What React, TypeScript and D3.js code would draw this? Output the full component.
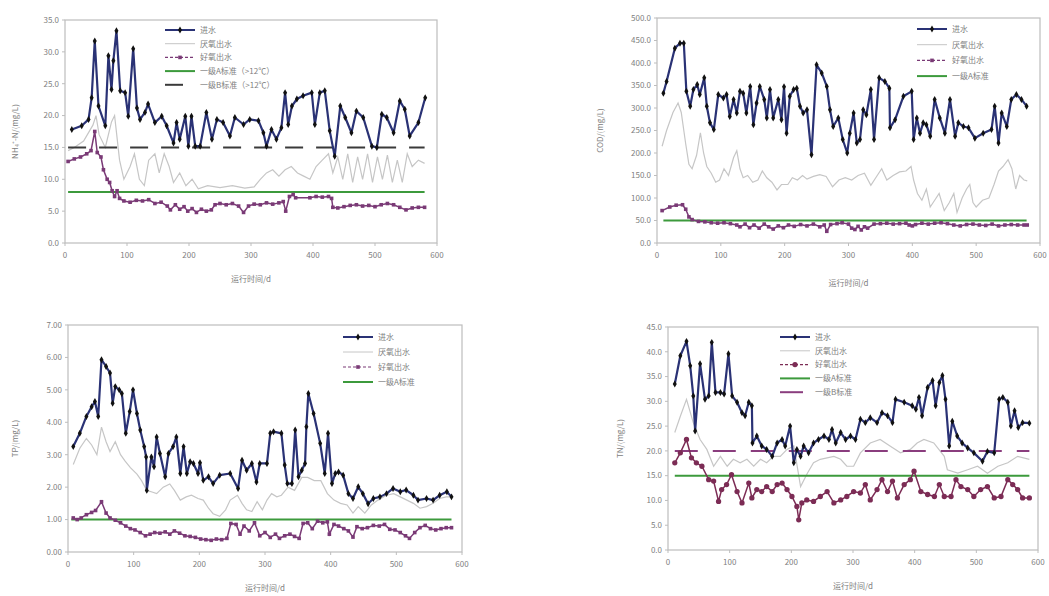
import React from 'react';
import * as d3 from 'd3';

type P = [number, number];

// ---------- legend labels ----------
const legendNH4 = ['进水', '厌氧出水', '好氧出水', '一级A标准（>12℃）', '一级B标准（>12℃）'];
const legendCOD = ['进水', '厌氧出水', '好氧出水', '一级A标准'];
const legendTP = ['进水', '厌氧出水', '好氧出水', '一级A标准'];
const legendTN = ['进水', '厌氧出水', '好氧出水', '一级A标准', '一级B标准'];

const xTicks = [0, 100, 200, 300, 400, 500, 600];
const ticksNH4 = [0, 5, 10, 15, 20, 25, 30, 35];
const ticksCOD = [0, 50, 100, 150, 200, 250, 300, 350, 400, 450, 500];
const ticksTP = [0, 1, 2, 3, 4, 5, 6, 7];
const ticksTN = [0, 5, 10, 15, 20, 25, 30, 35, 40, 45];

// ---------- NH4+-N ----------
const nh4Influent: P[] = [
  [11, 17.8], [27, 18.4], [38, 19.4], [43, 22.8], [48, 31.7], [54, 21.5], [65, 18.4], [70, 29.4], [75, 24.1],
  [78, 28.6], [83, 33.3], [89, 23.9], [97, 23.6], [102, 19.9], [110, 30.5], [116, 21.2], [121, 19.4], [129, 20.5],
  [134, 21.8], [145, 18.9], [156, 19.9], [164, 18.4], [175, 15.7], [180, 18.9], [185, 16.3], [194, 19.9],
  [199, 15.2], [204, 19.9], [210, 15.2], [218, 15.2], [228, 20.5], [237, 16.3], [245, 19.4], [255, 18.9],
  [266, 16.8], [274, 19.7], [288, 18.6], [298, 19.4], [312, 19.2], [320, 17.3], [325, 15.2], [333, 17.8],
  [341, 16.3], [349, 18.1], [355, 23.6], [360, 18.6], [366, 21.5], [374, 22.6], [384, 23.1], [398, 23.6],
  [403, 18.6], [411, 23.6], [419, 23.9], [427, 17.6], [435, 13.6], [444, 21.5], [452, 19.7], [462, 17.3],
  [470, 20.7], [481, 19.7], [495, 15.2], [503, 15.0], [511, 20.2], [519, 19.7], [530, 17.3], [540, 22.3],
  [548, 21.0], [556, 16.8], [570, 18.9], [581, 22.8],
];
const nh4Anaerobic: P[] = [
  [5, 14.5], [15, 15], [30, 16], [45, 18.5], [50, 20], [55, 17], [65, 15], [75, 19], [80, 20], [88, 13],
  [95, 10], [105, 12], [112, 14], [120, 10], [128, 9], [135, 13], [145, 14], [152, 11], [160, 14], [168, 12],
  [175, 9.5], [185, 11], [195, 9], [205, 10], [215, 8.5], [230, 9], [250, 8.7], [270, 9], [290, 8.6],
  [305, 8.8], [315, 10], [325, 11], [335, 11.5], [345, 10.5], [355, 11.5], [365, 12], [375, 11], [385, 10.5],
  [395, 10], [405, 12], [415, 13], [425, 14], [432, 11], [440, 13.5], [448, 10], [456, 14], [464, 9.5],
  [472, 13.5], [480, 10], [488, 14], [496, 9.5], [504, 13.5], [512, 10], [520, 13.8], [528, 9.5], [536, 13],
  [544, 9.5], [552, 14], [560, 12], [570, 13], [580, 12.5],
];
const nh4Aerobic: P[] = [
  [5, 12.8], [15, 13.2], [25, 13.5], [35, 14], [42, 14.5], [48, 17.5], [52, 14.2], [58, 13.5], [62, 11.5],
  [68, 10], [72, 9.5], [76, 8.2], [80, 7.3], [84, 8.2], [88, 7], [95, 6.6], [105, 6.4], [115, 6.7], [125, 6.6],
  [135, 6.8], [145, 6.2], [155, 6.4], [165, 5.8], [170, 5.2], [178, 6], [185, 5.3], [192, 5.7], [198, 5],
  [205, 5.4], [212, 4.8], [220, 5.3], [228, 5], [236, 5.2], [242, 6], [250, 6.2], [260, 6], [270, 6.2],
  [280, 5.8], [288, 4.8], [296, 5.8], [305, 6.1], [315, 6], [325, 6.3], [335, 6.1], [345, 6.3], [352, 6.5],
  [356, 5], [362, 7.3], [368, 7.6], [372, 7.1], [395, 7.1], [405, 7.3], [415, 7.2], [425, 7.3], [430, 7],
  [432, 5.6], [440, 5.5], [450, 5.7], [460, 5.9], [470, 6], [480, 5.8], [490, 5.9], [500, 5.7], [510, 6],
  [520, 6.2], [530, 6], [540, 5.6], [550, 5.2], [560, 5.5], [570, 5.6], [580, 5.6],
];
const nh4StdA = 8;
const nh4StdB = 15;

// ---------- COD ----------
const codInfluent: P[] = [
  [10, 333], [15, 359], [28, 433], [36, 444], [42, 444], [46, 337], [52, 304], [57, 341], [63, 352], [67, 330],
  [74, 367], [78, 304], [83, 267], [89, 252], [96, 330], [104, 322], [109, 330], [114, 281], [120, 319],
  [125, 289], [130, 337], [135, 333], [140, 289], [146, 348], [151, 263], [156, 311], [161, 348], [168, 319],
  [172, 278], [177, 341], [182, 278], [190, 319], [195, 274], [199, 347], [203, 244], [208, 326], [214, 341],
  [219, 344], [224, 304], [229, 289], [235, 296], [242, 196], [250, 396], [258, 378], [266, 348], [271, 296],
  [276, 259], [284, 278], [291, 230], [298, 200], [302, 244], [308, 289], [313, 222], [318, 230], [323, 296],
  [328, 285], [335, 341], [340, 230], [348, 367], [357, 359], [364, 344], [365, 256], [373, 274], [386, 326],
  [399, 337], [402, 230], [407, 278], [412, 244], [417, 267], [422, 263], [428, 237], [435, 319], [443, 278],
  [451, 244], [459, 319], [467, 237], [472, 267], [480, 259], [488, 256], [498, 233], [511, 244], [524, 252],
  [529, 304], [535, 222], [540, 289], [548, 259], [555, 319], [563, 330], [571, 319], [579, 304],
];
const codAnaerobic: P[] = [
  [8, 215], [15, 250], [25, 290], [33, 311], [38, 290], [45, 220], [50, 175], [55, 165], [62, 195], [68, 245],
  [73, 200], [78, 170], [85, 155], [92, 135], [98, 140], [105, 165], [112, 150], [120, 190], [125, 205],
  [130, 165], [135, 145], [142, 150], [150, 135], [158, 140], [165, 160], [172, 145], [180, 135], [188, 118],
  [195, 130], [205, 130], [212, 145], [220, 140], [228, 150], [235, 142], [245, 148], [255, 152], [265, 148],
  [275, 125], [285, 140], [295, 145], [305, 140], [315, 150], [325, 155], [335, 128], [345, 150], [352, 165],
  [360, 140], [370, 150], [380, 158], [390, 160], [398, 170], [402, 140], [408, 110], [415, 95], [422, 120],
  [428, 80], [435, 95], [442, 110], [450, 72], [458, 90], [465, 110], [470, 68], [478, 100], [485, 120],
  [490, 130], [495, 90], [500, 80], [510, 95], [520, 100], [528, 130], [535, 160], [542, 170], [550, 185],
  [556, 165], [562, 120], [568, 150], [575, 140], [580, 138],
];
const codAerobic: P[] = [
  [8, 72], [20, 80], [30, 84], [40, 85], [45, 75], [50, 58], [55, 52], [65, 48], [75, 47], [85, 45], [95, 44],
  [105, 45], [115, 43], [125, 40], [130, 36], [138, 42], [145, 34], [152, 40], [160, 33], [168, 42], [175, 36],
  [182, 31], [190, 38], [198, 34], [206, 40], [215, 37], [225, 41], [235, 38], [245, 42], [255, 36], [262, 40],
  [266, 26], [272, 41], [282, 43], [290, 45], [300, 42], [305, 33], [310, 30], [315, 37], [320, 29], [325, 36],
  [330, 33], [340, 42], [350, 43], [360, 44], [370, 42], [380, 43], [390, 44], [395, 40], [400, 38], [405, 41],
  [415, 44], [425, 42], [435, 44], [445, 45], [455, 43], [465, 40], [475, 38], [485, 41], [495, 42], [505, 40],
  [515, 39], [525, 42], [535, 38], [545, 40], [555, 41], [565, 40], [575, 40], [580, 40],
];
const codStdA = 50;

// ---------- TP ----------
const tpInfluent: P[] = [
  [8, 3.25], [18, 3.66], [28, 4.18], [36, 4.48], [41, 4.64], [46, 4.18], [51, 5.93], [58, 5.72], [64, 5.52],
  [68, 4.59], [72, 5.1], [78, 5.0], [82, 4.89], [88, 3.66], [94, 4.33], [99, 5.0], [105, 4.27], [110, 3.76],
  [116, 3.25], [119, 2.93], [120, 1.9], [127, 2.93], [131, 2.63], [135, 3.55], [140, 3.04], [148, 2.32],
  [153, 3.04], [160, 3.25], [165, 3.55], [171, 2.42], [176, 3.25], [181, 2.42], [186, 2.78], [191, 2.73],
  [198, 2.42], [201, 2.75], [206, 2.21], [214, 2.32], [221, 2.11], [231, 2.37], [247, 2.42], [259, 1.96],
  [265, 2.83], [272, 2.52], [280, 2.73], [287, 2.16], [292, 2.73], [303, 2.73], [308, 3.66], [313, 3.71],
  [325, 3.66], [330, 2.68], [334, 2.11], [341, 2.11], [346, 3.76], [351, 2.32], [356, 2.52], [361, 2.73],
  [363, 3.86], [366, 4.89], [374, 4.27], [384, 3.35], [391, 2.42], [396, 3.66], [402, 2.11], [407, 2.42],
  [412, 2.47], [419, 2.37], [427, 1.8], [434, 1.65], [442, 2.01], [449, 1.8], [457, 1.49], [465, 1.65],
  [475, 1.7], [485, 1.8], [495, 1.96], [506, 1.86], [515, 1.91], [526, 1.75], [533, 1.6], [546, 1.65],
  [556, 1.6], [566, 1.75], [577, 1.86], [584, 1.7],
];
const tpAnaerobic: P[] = [
  [8, 2.7], [18, 3.2], [28, 3.5], [36, 3.3], [44, 3.0], [51, 3.85], [58, 3.4], [64, 3.1], [72, 3.4], [80, 3.0],
  [87, 2.8], [95, 2.6], [105, 2.4], [112, 2.2], [120, 1.9], [128, 1.85], [135, 1.8], [145, 2.0], [155, 2.1],
  [162, 1.9], [171, 1.6], [180, 1.7], [188, 1.75], [198, 1.65], [206, 1.6], [214, 1.35], [221, 1.18],
  [231, 1.1], [240, 1.3], [247, 1.6], [258, 1.75], [265, 1.5], [272, 1.3], [280, 1.25], [288, 1.55],
  [296, 1.3], [303, 1.6], [310, 1.8], [318, 1.7], [325, 1.75], [335, 2.0], [345, 1.9], [356, 2.3], [365, 2.3],
  [375, 2.2], [385, 2.2], [395, 1.8], [405, 1.6], [415, 1.5], [425, 1.45], [434, 1.2], [442, 1.4], [452, 1.2],
  [462, 1.45], [472, 1.6], [485, 1.75], [496, 1.8], [506, 1.7], [516, 1.6], [526, 1.5], [536, 1.35],
  [546, 1.4], [556, 1.5], [566, 1.65], [576, 1.7], [584, 1.7],
];
const tpAerobic: P[] = [
  [8, 1.05], [14, 1.0], [20, 1.05], [28, 1.15], [36, 1.22], [42, 1.28], [51, 1.55], [58, 1.2], [64, 1.05],
  [72, 0.98], [80, 0.9], [88, 0.8], [95, 0.72], [102, 0.68], [110, 0.6], [118, 0.5], [125, 0.55], [132, 0.6],
  [140, 0.58], [148, 0.62], [155, 0.55], [162, 0.65], [170, 0.58], [178, 0.5], [186, 0.48], [194, 0.45],
  [202, 0.4], [210, 0.38], [218, 0.36], [226, 0.4], [234, 0.38], [242, 0.42], [248, 0.88], [256, 0.85],
  [262, 0.55], [268, 0.8], [276, 0.65], [284, 0.9], [292, 0.5], [300, 0.6], [308, 0.45], [316, 0.55],
  [322, 0.42], [330, 0.5], [338, 0.55], [345, 0.48], [352, 0.42], [358, 0.88], [365, 0.9], [372, 0.72],
  [380, 0.95], [388, 0.9], [395, 0.93], [398, 0.55], [405, 0.85], [412, 0.8], [420, 0.72], [427, 0.65],
  [434, 0.46], [440, 0.78], [448, 0.72], [456, 0.75], [465, 0.82], [474, 0.8], [482, 0.85], [490, 0.7],
  [498, 0.68], [506, 0.6], [514, 0.5], [520, 0.42], [528, 0.6], [536, 0.75], [544, 0.82], [552, 0.72],
  [560, 0.68], [568, 0.72], [576, 0.75], [584, 0.75],
];
const tpStdA = 1.0;

// ---------- TN ----------
const tnInfluent: P[] = [
  [11, 33.5], [20, 39.2], [30, 42.1], [36, 37.2], [41, 31.1], [44, 24.0], [52, 37.6], [60, 30.4], [66, 31.1],
  [71, 41.9], [77, 31.8], [85, 31.8], [91, 31.5], [98, 39.6], [104, 31.1], [112, 29.8], [120, 27.7],
  [125, 27.1], [131, 29.8], [136, 29.1], [137, 21.6], [144, 23.0], [152, 21.0], [160, 20.3], [169, 18.9],
  [177, 21.6], [185, 22.3], [190, 21.0], [198, 25.0], [204, 17.6], [209, 20.3], [215, 18.9], [220, 21.0],
  [228, 19.6], [236, 21.6], [244, 22.3], [253, 23.0], [261, 22.3], [266, 24.3], [272, 21.6], [280, 23.7],
  [288, 22.3], [296, 23.0], [304, 22.3], [312, 26.4], [320, 25.7], [328, 26.7], [339, 25.7], [347, 27.7],
  [356, 27.1], [364, 25.7], [369, 30.4], [383, 29.8], [396, 29.1], [402, 28.4], [407, 30.8], [412, 27.1],
  [421, 32.8], [429, 34.2], [434, 29.1], [440, 33.8], [445, 35.2], [450, 30.4], [456, 21.0], [461, 26.0],
  [469, 23.0], [477, 21.6], [486, 20.6], [496, 19.6], [510, 17.9], [518, 19.9], [529, 19.6], [537, 30.4],
  [543, 30.8], [551, 29.8], [556, 25.0], [562, 28.1], [568, 24.7], [575, 25.7], [586, 25.6],
];
const tnAnaerobic: P[] = [
  [11, 23.7], [20, 27], [30, 30.4], [41, 25.7], [52, 22.3], [63, 20.3], [74, 16.9], [85, 18.9], [96, 16.9],
  [106, 18.3], [117, 17.6], [128, 18.3], [139, 16.9], [150, 18.3], [160, 17.6], [171, 18.9], [182, 18.9],
  [193, 20.3], [204, 21], [215, 12.8], [226, 15.5], [236, 17.6], [247, 18.3], [258, 18.6], [269, 18.9],
  [280, 18.3], [290, 16.9], [301, 16.9], [312, 19.6], [328, 21.6], [344, 22.3], [360, 21], [377, 19.6],
  [393, 20.3], [404, 21.6], [415, 22.3], [431, 21.6], [448, 18.9], [453, 16.2], [470, 15.5], [486, 16.2],
  [502, 16.9], [518, 15.5], [535, 16.9], [551, 17.6], [567, 18.9], [586, 18.3],
];
const tnAerobic: P[] = [
  [11, 17.6], [20, 19.6], [30, 22.3], [38, 18.6], [46, 17.6], [55, 16.9], [66, 14.2], [74, 13.9], [82, 9.8],
  [87, 12.2], [95, 13.2], [103, 15.2], [112, 11.8], [120, 9.5], [131, 13.5], [136, 10.5], [144, 12.2],
  [152, 11.8], [160, 12.8], [169, 11.8], [177, 13.2], [185, 13.5], [193, 12.2], [201, 10.8], [209, 8.8],
  [212, 6.1], [217, 9.5], [225, 10.1], [236, 9.8], [247, 10.8], [258, 11.8], [269, 9.5], [280, 10.1],
  [290, 10.8], [301, 11.8], [312, 11.5], [320, 13.2], [328, 10.1], [339, 12.2], [347, 14.2], [356, 11.8],
  [364, 13.9], [372, 10.5], [383, 13.2], [393, 14.2], [399, 15.9], [410, 11.8], [421, 11.2], [432, 10.8],
  [440, 13.2], [448, 10.8], [459, 10.8], [467, 14.2], [475, 12.8], [486, 12.2], [496, 10.8], [507, 12.2],
  [518, 12.8], [529, 10.5], [540, 10.8], [551, 14.2], [559, 13.2], [567, 12.2], [575, 10.5], [586, 10.5],
];
const tnStdA = 15;
const tnStdB = 20;

// ---------- styles ----------
const INF = '#2a3275';
const ANA = '#c6c6c6';
const AER = '#7a3a76';
const GREEN = '#3c9a3c';
const TXT = '#808080';
const FONT = '"Noto Sans CJK SC", "Liberation Sans", sans-serif';

type Std = { value: number; color: string; dash?: string; from: number; to: number };
type PanelCfg = {
  left: number; right: number; top: number; bottom: number;
  yMax: number; yTicks: number[]; fmt: string;
  yLabel: string; yLabelX: number; xLabelY: number;
  influent: P[]; anaerobic: P[]; aerobic: P[];
  aerShape: 'square' | 'circle'; aerColor: string;
  stds: Std[];
  legend: string[]; legX: number; legY: number; legStep: number;
};

function Panel({ c }: { c: PanelCfg }) {
  const x = d3.scaleLinear().domain([0, 600]).range([c.left, c.right]);
  const y = d3.scaleLinear().domain([0, c.yMax]).range([c.bottom, c.top]);
  const line = d3.line<P>().x((d) => x(d[0])).y((d) => y(d[1]));
  const f = d3.format(c.fmt);
  const diamond = d3.symbol().type(d3.symbolDiamond).size(14)() as string;
  const aerSym = d3.symbol().type(c.aerShape === 'square' ? d3.symbolSquare : d3.symbolCircle).size(c.aerShape === 'square' ? 13 : 22)() as string;
  const legendStyles = [
    { stroke: INF, w: 2, marker: diamond, mfill: '#111', dash: undefined as string | undefined },
    { stroke: ANA, w: 1, marker: null, mfill: '', dash: undefined },
    { stroke: c.aerColor, w: 1.2, marker: aerSym, mfill: c.aerColor, dash: '3,2' },
    ...c.stds.map((s) => ({ stroke: s.color, w: 2, marker: null, mfill: '', dash: s.dash })),
  ];
  return (
    <g>
      <rect x={c.left} y={c.top} width={c.right - c.left} height={c.bottom - c.top} fill="white" stroke="#bdbdbd" strokeWidth={1.2} />
      {c.yTicks.map((t) => (
        <g key={'y' + t}>
          <line x1={c.left - 3} x2={c.left} y1={y(t)} y2={y(t)} stroke="#bdbdbd" />
          <text x={c.left - 6} y={y(t)} dy="0.35em" textAnchor="end" fontSize={8} fill={TXT}>{f(t)}</text>
        </g>
      ))}
      {xTicks.map((t) => (
        <g key={'x' + t}>
          <line x1={x(t)} x2={x(t)} y1={c.bottom} y2={c.bottom + 3} stroke="#bdbdbd" />
          <text x={x(t)} y={c.bottom + 15} textAnchor="middle" fontSize={8} fill={TXT}>{t}</text>
        </g>
      ))}
      <text transform={`translate(${c.yLabelX},${(c.top + c.bottom) / 2}) rotate(-90)`} textAnchor="middle" fontSize={8} fill={TXT}>{c.yLabel}</text>
      <text x={(c.left + c.right) / 2} y={c.xLabelY} textAnchor="middle" fontSize={8} fill={TXT}>运行时间/d</text>

      <path d={line(c.anaerobic) as string} fill="none" stroke={ANA} strokeWidth={1.2} />
      {c.stds.map((s, i) => (
        <line key={'s' + i} x1={x(s.from)} x2={x(s.to)} y1={y(s.value)} y2={y(s.value)} stroke={s.color} strokeWidth={2} strokeDasharray={s.dash} />
      ))}
      <path d={line(c.aerobic) as string} fill="none" stroke={c.aerColor} strokeWidth={1.5} />
      {c.aerobic.map((d, i) => (
        <path key={'a' + i} d={aerSym} transform={`translate(${x(d[0])},${y(d[1])})`} fill={c.aerColor} />
      ))}
      <path d={line(c.influent) as string} fill="none" stroke={INF} strokeWidth={2.2} strokeLinejoin="round" />
      {c.influent.map((d, i) => (
        <path key={'i' + i} d={diamond} transform={`translate(${x(d[0])},${y(d[1])})`} fill="#111" />
      ))}

      {c.legend.map((lab, i) => {
        const st = legendStyles[i];
        const ly = c.legY + i * c.legStep;
        return (
          <g key={'l' + i}>
            <line x1={c.legX} x2={c.legX + 30} y1={ly} y2={ly} stroke={st.stroke} strokeWidth={st.w} strokeDasharray={st.dash} />
            {st.marker && <path d={st.marker} transform={`translate(${c.legX + 15},${ly})`} fill={st.mfill} />}
            <text x={c.legX + 35} y={ly} dy="0.35em" fontSize={8} fill={TXT}>{lab}</text>
          </g>
        );
      })}
    </g>
  );
}

const panels: PanelCfg[] = [
  {
    left: 65, right: 437, top: 20, bottom: 243, yMax: 35, yTicks: ticksNH4, fmt: '.1f',
    yLabel: 'NH₄⁺-N/(mg/L)', yLabelX: 18, xLabelY: 282,
    influent: nh4Influent, anaerobic: nh4Anaerobic, aerobic: nh4Aerobic, aerShape: 'square', aerColor: AER,
    stds: [
      { value: nh4StdA, color: GREEN, from: 5, to: 580 },
      { value: nh4StdB, color: '#3a3a3a', dash: '18,13', from: 5, to: 580 },
    ],
    legend: legendNH4, legX: 165, legY: 30, legStep: 13.7,
  },
  {
    left: 657, right: 1040, top: 18, bottom: 243, yMax: 500, yTicks: ticksCOD, fmt: '.1f',
    yLabel: 'COD/(mg/L)', yLabelX: 603, xLabelY: 286,
    influent: codInfluent, anaerobic: codAnaerobic, aerobic: codAerobic, aerShape: 'square', aerColor: AER,
    stds: [{ value: codStdA, color: GREEN, from: 10, to: 579 }],
    legend: legendCOD, legX: 917, legY: 29, legStep: 15.7,
  },
  {
    left: 68, right: 462, top: 325, bottom: 552, yMax: 7, yTicks: ticksTP, fmt: '.2f',
    yLabel: 'TP/(mg/L)', yLabelX: 18, xLabelY: 591,
    influent: tpInfluent, anaerobic: tpAnaerobic, aerobic: tpAerobic, aerShape: 'square', aerColor: AER,
    stds: [{ value: tpStdA, color: GREEN, from: 5, to: 584 }],
    legend: legendTP, legX: 343, legY: 337, legStep: 15,
  },
  {
    left: 668, right: 1038, top: 327, bottom: 550, yMax: 45, yTicks: ticksTN, fmt: '.1f',
    yLabel: 'TN/(mg/L)', yLabelX: 623, xLabelY: 589,
    influent: tnInfluent, anaerobic: tnAnaerobic, aerobic: tnAerobic, aerShape: 'circle', aerColor: '#7c2c55',
    stds: [
      { value: tnStdA, color: GREEN, from: 11, to: 586 },
      { value: tnStdB, color: '#8a3d7e', dash: '23,15', from: 11, to: 586 },
    ],
    legend: legendTN, legX: 780, legY: 337, legStep: 13.8,
  },
];

export default function App() {
  return (
    <svg width={1049} height={596} style={{ position: 'absolute', left: 0, top: 0, background: 'white' }} fontFamily={FONT}>
      <rect width={1049} height={596} fill="white" />
      {panels.map((c, i) => <Panel key={i} c={c} />)}
    </svg>
  );
}
